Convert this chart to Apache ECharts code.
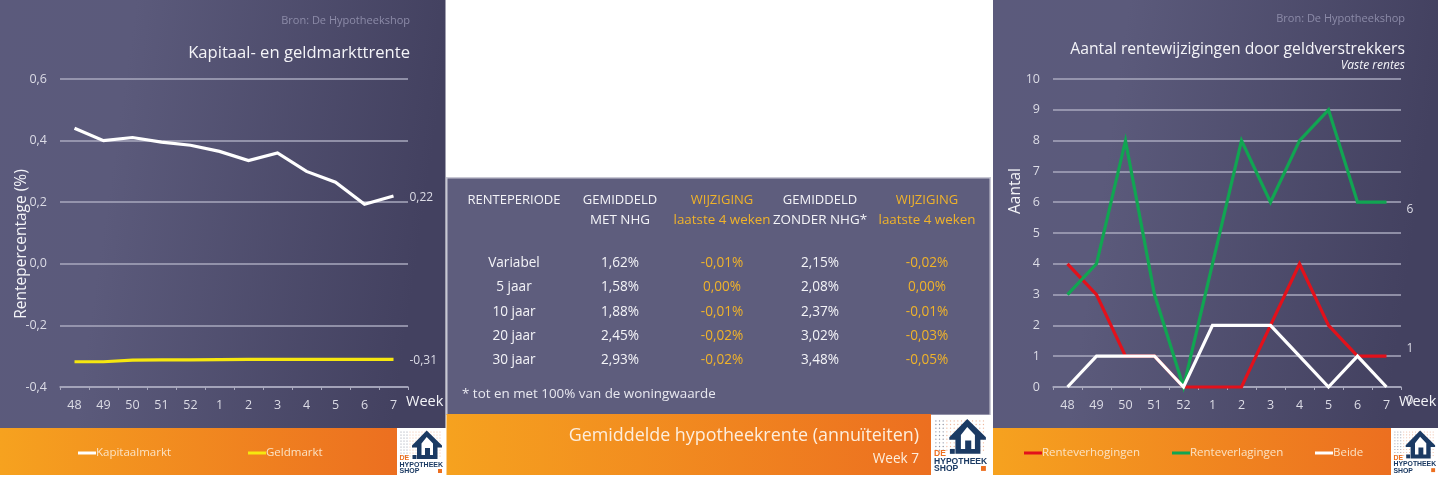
<!DOCTYPE html>
<html>
<head>
<meta charset="utf-8">
<style>html,body{margin:0;padding:0;background:#fff}#c{width:1440px;height:477px}</style>
<script src="https://cdn.jsdelivr.net/npm/echarts@6/dist/echarts.min.js"></script>
</head>
<body>
<div id="c"></div>
<script>
const weeks = ['48','49','50','51','52','1','2','3','4','5','6','7'];
const kapitaalmarkt = [0.44,0.40,0.41,0.395,0.385,0.365,0.335,0.36,0.30,0.265,0.193,0.22];
const geldmarkt = [-0.318,-0.318,-0.313,-0.312,-0.312,-0.311,-0.31,-0.31,-0.31,-0.31,-0.31,-0.31];
const renteverhogingen = [4,3,1,1,0,0,0,2,4,2,1,1];
const renteverlagingen = [3,4,8,3,0,4,8,6,8,9,6,6];
const beide = [0,1,1,1,0,2,2,2,1,0,1,0];

const tableHeader1 = ['RENTEPERIODE','GEMIDDELD','WIJZIGING','GEMIDDELD','WIJZIGING'];
const tableHeader2 = ['','MET NHG','laatste 4 weken','ZONDER NHG*','laatste 4 weken'];
const periodes = ['Variabel','5 jaar','10 jaar','20 jaar','30 jaar'];
const metNhg = ['1,62%','1,58%','1,88%','2,45%','2,93%'];
const wijzigingMet = ['-0,01%','0,00%','-0,01%','-0,02%','-0,02%'];
const zonderNhg = ['2,15%','2,08%','2,37%','3,02%','3,48%'];
const wijzigingZonder = ['-0,02%','0,00%','-0,01%','-0,03%','-0,05%'];

const FONT = '"Open Sans", "Noto Sans", sans-serif';
const WHITE = '#f4f4f8', GOLD = '#f0b32a', LABEL = '#dcdce6', GRID = '#a9a9be';
const comma = (v, d) => v.toFixed(d).replace('.', ',');

function txt(x, y, text, size, fill, align, extra) {
  return {type:'text', x, y, z:5, silent:true, style:Object.assign({
    text, fontFamily:FONT, fontSize:size, fill, align:align||'center', verticalAlign:'middle'
  }, extra||{})};
}
function rect(x, y, w, h, fill, z) {
  return {type:'rect', z:z===undefined?-10:z, silent:true, shape:{x,y,width:w,height:h}, style:{fill}};
}
const purple = {type:'linear',x:0,y:0,x2:1,y2:0.15,colorStops:[{offset:0,color:'#5b5a7c'},{offset:.3,color:'#5b5a7b'},{offset:1,color:'#434160'}]};
const orange = {type:'linear',x:0,y:0,x2:1,y2:0,colorStops:[{offset:0,color:'#f6a21f'},{offset:1,color:'#ec6f20'}]};

function logo(x, y, s) {
  const NAVY = '#1b3a63', kids = [];
  kids.push({type:'rect', shape:{x:0,y:0,width:48,height:47}, style:{fill:'#fff'}});
  for (let i = 0; i < 14; i++) for (let j = 0; j < 9; j++) {
    kids.push({type:'circle', shape:{cx:4+i*3,cy:4+j*3,r:0.55},
      style:{fill:i<3?'#8a8fa0':'#eeb79c'}});
  }
  kids.push({type:'polygon', shape:{points:[[29.7,2.5],[45,17.5],[45,19.5],[40.5,19.5],[40.5,31],[20,31],[20,19.5],[15,19.5],[15,17.5]]}, style:{fill:NAVY}});
  kids.push({type:'polygon', shape:{points:[[29.7,9],[36,15.5],[36,27],[33,27],[33,20],[28,20],[28,27],[24.5,27],[24.5,15.5]]}, style:{fill:'#fff'}});
  kids.push({type:'rect', shape:{x:15.5,y:27,width:4,height:4}, style:{fill:NAVY}});
  kids.push({type:'rect', shape:{x:41,y:41,width:4,height:4}, style:{fill:'#ec6f20'}});
  const t = (ty, text, fill) => ({type:'text', x:2.5, y:ty, style:{text, fontFamily:'"Liberation Sans",sans-serif', fontWeight:'bold', fontSize:7, fill, verticalAlign:'middle'}});
  kids.push(t(30.5,'DE','#ec6f20'), t(37,'HYPOTHEEK',NAVY), t(43.5,'SHOP',NAVY));
  return {type:'group', x, y, scaleX:s, scaleY:s, z:4, silent:true, children:kids};
}

const graphic = [
  rect(0,0,445.5,428,purple), rect(0,428,397,47,orange), logo(397,428,1),
  rect(993,0,445,428,purple), rect(993,428,398,47,orange), logo(1391,428,0.98),
  rect(446,177,545,238,'#c8c8d4',-11),
  rect(447.5,178.5,542,236,'#5e5d7d'), rect(446.5,414,484.5,61,orange), logo(931,416,1.22),
  txt(410,20.5,'Bron: De Hypotheekshop',11,'#8c8ba8','right'),
  txt(1405,18.5,'Bron: De Hypotheekshop',11,'#8c8ba8','right'),
  txt(1405,66,'Vaste rentes',12,WHITE,'right',{fontStyle:'italic'}),
  txt(919,436,'Gemiddelde hypotheekrente (annuïteiten)',17.9,'#fdeedd','right'),
  txt(919,459,'Week 7',13.6,'#fdeedd','right'),
  txt(462,394,'* tot en met 100% van de woningwaarde',13.4,'#e8e8f0','left')
];
const colX = [514,620,722,820,927];
const rowY = [263,287,312,336,360];
tableHeader1.forEach((h,i)=>graphic.push(txt(colX[i],200,h,13,i%2===0&&i>0?GOLD:WHITE)));
tableHeader2.forEach((h,i)=>{ if(h) graphic.push(txt(colX[i],220,h,13.4,i%2===0?GOLD:WHITE)); });
[periodes,metNhg,wijzigingMet,zonderNhg,wijzigingZonder].forEach((col,i)=>{
  col.forEach((v,r)=>graphic.push(txt(colX[i],rowY[r],v,13.6,(i===2||i===4)?GOLD:WHITE)));
});

function xAxis(gridIndex) {
  return {type:'category', gridIndex, data:weeks, boundaryGap:true,
    axisLine:{show:true,onZero:false,lineStyle:{color:GRID,width:1.5}},
    axisTick:{show:true,length:3,alignWithLabel:false,lineStyle:{color:GRID,width:1}},
    axisLabel:{color:LABEL,fontSize:12.5,fontFamily:FONT,margin:12,interval:0},
    splitLine:{show:false},
    name:'Week', nameLocation:'end', nameGap:-2, nameMoveOverlap:false,
    nameTextStyle:{color:WHITE,fontSize:14.5,fontFamily:FONT,verticalAlign:'top',padding:[7,0,0,0]}};
}
function yAxis(gridIndex, o) {
  return Object.assign({type:'value', gridIndex,
    axisLine:{show:false}, axisTick:{show:false},
    splitLine:{show:true,lineStyle:{color:GRID,width:1.5}},
  }, o);
}
function line(name, data, color, xi, endLabel) {
  const s = {type:'line', name, data, xAxisIndex:xi, yAxisIndex:xi, symbol:'none', clip:false,
    lineStyle:{color,width:3.2,join:'miter'}, itemStyle:{color}, animation:false};
  if (endLabel) s.endLabel = Object.assign({show:true,color:LABEL,fontSize:12,fontFamily:FONT}, endLabel);
  return s;
}
function legend(name, left) {
  return {show:true, left, top:442, data:[{name,icon:'rect'}], itemWidth:18, itemHeight:3,
    textStyle:{color:'#fbe3c4',fontSize:11.5,fontFamily:FONT,padding:[0,0,0,-5]}, selectedMode:false};
}

const option = {
  backgroundColor:'#ffffff', animation:false,
  title:[
    {text:'Kapitaal- en geldmarkttrente', right:1025, top:40, textStyle:{color:WHITE,fontSize:16.6,fontWeight:'normal',fontFamily:FONT}},
    {text:'Aantal rentewijzigingen door geldverstrekkers', right:30, top:37, textStyle:{color:WHITE,fontSize:15.7,fontWeight:'normal',fontFamily:FONT}}
  ],
  grid:[
    {left:60, width:348, top:79, height:308},
    {left:1053, width:348, top:79, height:308}
  ],
  xAxis:[xAxis(0), xAxis(1)],
  yAxis:[
    yAxis(0,{min:-0.4,max:0.6,interval:0.2,
      axisLabel:{color:LABEL,fontSize:12.5,fontFamily:FONT,margin:13,formatter:v=>comma(v,1)},
      name:'Rentepercentage (%)',nameLocation:'middle',nameGap:30,nameMoveOverlap:false,
      nameTextStyle:{color:WHITE,fontSize:15.5,fontFamily:FONT,padding:[0,22,0,0]}}),
    yAxis(1,{min:0,max:10,interval:1,
      axisLabel:{color:LABEL,fontSize:12.5,fontFamily:FONT,margin:13},
      name:'Aantal',nameLocation:'middle',nameGap:29,nameMoveOverlap:false,
      nameTextStyle:{color:WHITE,fontSize:15.5,fontFamily:FONT,padding:[0,0,0,84]}})
  ],
  legend:[legend('Kapitaalmarkt',73),legend('Geldmarkt',243),legend('Renteverhogingen',1019),legend('Renteverlagingen',1167),legend('Beide',1310)],
  series:[
    line('Kapitaalmarkt',kapitaalmarkt,'#ffffff',0,{formatter:p=>comma(p.value,2),offset:[8,2]}),
    line('Geldmarkt',geldmarkt,'#f6e70f',0,{formatter:p=>comma(p.value,2),offset:[8,1]}),
    line('Renteverhogingen',renteverhogingen,'#e2111b',1,{formatter:p=>String(p.value),offset:[12,-8]}),
    line('Renteverlagingen',renteverlagingen,'#11a552',1,{formatter:p=>String(p.value),offset:[12,7]}),
    line('Beide',beide,'#ffffff',1,{formatter:p=>String(p.value),offset:[12,14]})
  ],
  graphic:{elements:graphic}
};
const chart = echarts.init(document.getElementById('c'), null, {renderer:'canvas',width:1440,height:477});
chart.setOption(option);
</script>
</body>
</html>
